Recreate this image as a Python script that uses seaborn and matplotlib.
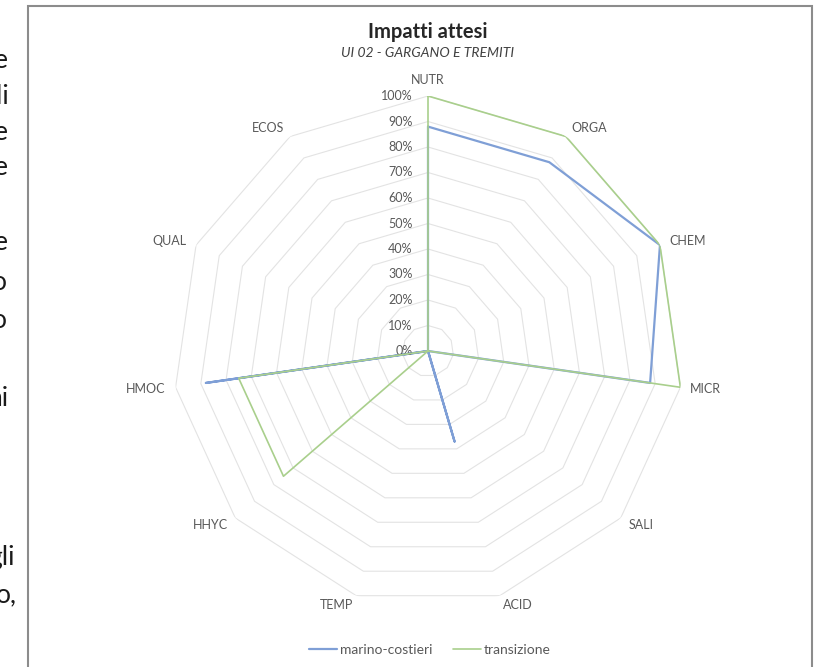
import numpy as np
import pandas as pd
import seaborn as sns
import matplotlib.pyplot as plt
from matplotlib.patches import Rectangle
from matplotlib.lines import Line2D

# dati del grafico radar
categorie = ["NUTR", "ORGA", "CHEM", "MICR", "SALI", "ACID",
             "TEMP", "HHYC", "HMOC", "QUAL", "ECOS"]
marino_costieri = [88, 88, 100, 88, 0, 37, 0, 0, 88, 0, 0]
transizione = [100, 100, 100, 100, 0, 0, 0, 75, 75, 0, 0]
livelli = [0, 10, 20, 30, 40, 50, 60, 70, 80, 90, 100]

titolo = "Impatti attesi"
sottotitolo = "UI 02 - GARGANO E TREMITI"

# frammenti di testo tagliati a sinistra (documento accanto)
frammenti = ["e", "li", "e", "e", "e", "o", "o", "ni", "gli", "o,"]
frammenti_y = [60, 96, 132, 168, 243, 282, 320, 399, 557, 595]
frammenti_x = [8, 9, 8, 8, 8, 7, 7, 8, 15, 17]

sns.set_theme(style="white")
plt.rcParams['font.family'] = ['Lato', 'DejaVu Sans']

blu = "#7F9FD6"
verde = "#A9CF8C"
grigio = "#595959"

n = len(categorie)
angoli = np.linspace(0, 2 * np.pi, n, endpoint=False)
ang_chiusi = np.append(angoli, angoli[0])

df = pd.DataFrame({
    "theta": np.concatenate([ang_chiusi, ang_chiusi]),
    "valore": marino_costieri + marino_costieri[:1] + transizione + transizione[:1],
    "serie": ["marino-costieri"] * (n + 1) + ["transizione"] * (n + 1),
})

W, H = 814, 667
fig = plt.figure(figsize=(W / 100, H / 100), dpi=100)

cx, cy, R = 428, 351, 255
ax = fig.add_axes([(cx - R) / W, (H - cy - R) / H, 2 * R / W, 2 * R / H],
                  projection="polar")
ax.set_theta_zero_location("N")
ax.set_theta_direction(-1)
ax.grid(False)
ax.spines["polar"].set_visible(False)
ax.patch.set_alpha(0)

# griglia poligonale
for lv in livelli[1:]:
    ax.plot(ang_chiusi, [lv] * (n + 1), color="#e3e3e3", lw=0.8, zorder=1)

sns.lineplot(data=df[df.serie == "marino-costieri"], x="theta", y="valore",
             sort=False, estimator=None, color=blu, lw=1.6, ax=ax, zorder=3)
sns.lineplot(data=df[df.serie == "transizione"], x="theta", y="valore",
             sort=False, estimator=None, color=verde, lw=1.2, ax=ax, zorder=4)
ax.set_xlabel("")
ax.set_ylabel("")
ax.set_xticks([])
ax.set_yticks([])
ax.set_ylim(0, 100)

# etichette radiali
for lv in livelli:
    ax.annotate(f"{lv}%", xy=(0, lv), xytext=(-11, 0), textcoords="offset points",
                ha="right", va="center", fontsize=9, color=grigio)

# etichette categorie
for a, c in zip(angoli, categorie):
    s, co = np.sin(a), np.cos(a)
    ha = "left" if s > 0.2 else ("right" if s < -0.2 else "center")
    va = "bottom" if co > 0.98 else "center"
    ax.annotate(c, xy=(a, 100), xytext=(7.2 * s, 7.2 * co), textcoords="offset points",
                ha=ha, va=va, fontsize=9, color=grigio, annotation_clip=False)

fig.text(cx / W, 1 - 32 / H, titolo, ha="center", va="center",
         fontsize=14.5, fontweight="bold", color="#262626")
fig.text(cx / W, 1 - 53 / H, sottotitolo, ha="center", va="center",
         fontsize=10, fontstyle="italic", color="#404040")

handles = [Line2D([], [], color=blu, lw=1.6), Line2D([], [], color=verde, lw=1.2)]
fig.legend(handles, ["marino-costieri", "transizione"], loc="center",
           bbox_to_anchor=(430 / W, 1 - 650 / H), ncol=2, frameon=False,
           fontsize=10, handlelength=2.0, handletextpad=0.2, columnspacing=1.5,
           labelcolor=grigio)

# cornice del grafico
fig.add_artist(Rectangle((28 / W, -0.05), (812 - 28) / W, 1.05 - 6 / H,
                         transform=fig.transFigure, fill=False,
                         ec="#8c8c8c", lw=1.5))

for t, x, y in zip(frammenti, frammenti_x, frammenti_y):
    fig.text(x / W, 1 - y / H, t, ha="right", va="center", fontsize=19, color="#1a1a1a")

fig.savefig("out.png", dpi=100)
